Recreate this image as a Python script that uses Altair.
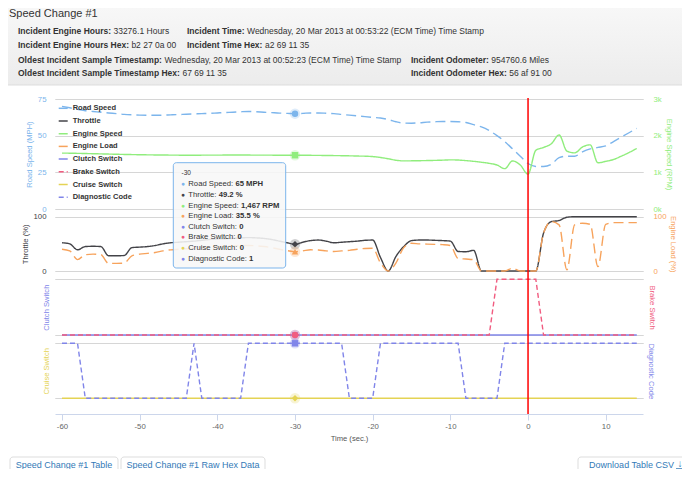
import altair as alt
import pandas as pd

# ---------------- data ----------------
TIME = list(range(-60, 15))

ROAD_SPEED = [
    70, 69, 68, 67, 66.5, 66, 65.5, 65, 64.5, 64.2,
    64, 63.9, 63.9, 64, 64.2, 64.4, 64.6, 64.8, 65, 65.2,
    65.5, 65.8, 66, 66.3, 66.5, 66.3, 66, 65.7, 65.4, 65.2,
    65, 65.2, 65.5, 65.5, 65.3, 65, 64.5, 64, 63.5, 63,
    62.5, 62, 61, 59.5, 58.6, 58.5, 58.8, 59.2, 59.5, 59.7,
    59.7, 59.5, 59, 57.5, 56, 53.5, 50, 46, 41, 36,
    31, 29, 29, 30.5, 35, 36, 36, 39, 41, 42,
    43, 46, 49, 52, 55,
]
THROTTLE = [
    52, 50, 39, 45, 45.5, 45, 28, 28, 28.5, 43,
    44, 45, 47, 50, 52, 53, 54, 55, 56.5, 58,
    59, 59.5, 60, 61, 61.5, 61, 60, 58, 55, 52,
    49.2, 53, 56, 57, 55, 52, 53, 54, 55, 56.5,
    57, 25, 0, 27, 45, 56, 57, 57, 56.5, 56,
    55, 36, 35.5, 38, 0, 0, 0, 0, 0, 0,
    0, 0, 70, 91, 93, 99, 100, 100, 100, 100,
    100, 100, 100, 100, 100,
]
ENGINE_SPEED = [
    1525, 1522, 1518, 1513, 1508, 1503, 1498, 1493, 1488, 1484,
    1480, 1477, 1474, 1472, 1470, 1468, 1467, 1467, 1468, 1469,
    1470, 1471, 1472, 1472, 1471, 1470, 1469, 1468, 1467, 1467,
    1467, 1466, 1464, 1462, 1460, 1457, 1454, 1450, 1445, 1440,
    1430, 1405, 1370, 1330, 1312, 1314, 1317, 1321, 1326, 1332,
    1340, 1335, 1320, 1300, 1275, 1245, 1200, 1100, 1310, 1200,
    950, 1600, 1680, 1780, 2020, 1580, 1530, 1690, 1750, 1260,
    1300, 1350, 1440, 1540, 1650,
]
ENGINE_LOAD = [
    40, 37, 21, 30, 31, 30, 14, 14, 14.5, 28,
    31, 32.5, 34, 37, 39, 40, 41, 42, 43, 44,
    45, 46, 46.5, 47, 47, 46.5, 45, 43, 40, 37.5,
    35.5, 37, 39, 38.7, 37, 36, 37, 38, 40, 41.5,
    42, 15, 0, 15, 43, 51, 50, 49.5, 49, 48.5,
    47, 23, 22, 21, 0, 0, 0, 0, 5, 0,
    0, 0, 70, 91, 85, 2, 85, 88, 86, 8,
    86, 89, 89, 89, 89,
]
CLUTCH_SWITCH = [
    0, 0, 0, 0, 0, 0, 0, 0, 0, 0,
    0, 0, 0, 0, 0, 0, 0, 0, 0, 0,
    0, 0, 0, 0, 0, 0, 0, 0, 0, 0,
    0, 0, 0, 0, 0, 0, 0, 0, 0, 0,
    0, 0, 0, 0, 0, 0, 0, 0, 0, 0,
    0, 0, 0, 0, 0, 0, 0, 0, 0, 0,
    0, 0, 0, 0, 0, 0, 0, 0, 0, 0,
    0, 0, 0, 0, 0,
]
BRAKE_SWITCH = [
    0, 0, 0, 0, 0, 0, 0, 0, 0, 0,
    0, 0, 0, 0, 0, 0, 0, 0, 0, 0,
    0, 0, 0, 0, 0, 0, 0, 0, 0, 0,
    0, 0, 0, 0, 0, 0, 0, 0, 0, 0,
    0, 0, 0, 0, 0, 0, 0, 0, 0, 0,
    0, 0, 0, 0, 0, 0, 1, 1, 1, 1,
    1, 1, 0, 0, 0, 0, 0, 0, 0, 0,
    0, 0, 0, 0, 0,
]
CRUISE_SWITCH = [
    0, 0, 0, 0, 0, 0, 0, 0, 0, 0,
    0, 0, 0, 0, 0, 0, 0, 0, 0, 0,
    0, 0, 0, 0, 0, 0, 0, 0, 0, 0,
    0, 0, 0, 0, 0, 0, 0, 0, 0, 0,
    0, 0, 0, 0, 0, 0, 0, 0, 0, 0,
    0, 0, 0, 0, 0, 0, 0, 0, 0, 0,
    0, 0, 0, 0, 0, 0, 0, 0, 0, 0,
    0, 0, 0, 0, 0,
]
DIAGNOSTIC_CODE = [
    1, 1, 1, 0, 0, 0, 0, 0, 0, 0,
    0, 0, 0, 0, 0, 0, 0, 1, 0, 0,
    0, 0, 0, 0, 1, 1, 1, 1, 1, 1,
    1, 1, 1, 1, 1, 1, 1, 0, 0, 0,
    0, 1, 1, 1, 1, 1, 1, 1, 1, 1,
    1, 1, 0, 0, 0, 0, 0, 1, 1, 1,
    1, 1, 1, 1, 1, 1, 1, 1, 1, 1,
    1, 1, 1, 1, 1,
]

SERIES = ["Road Speed", "Throttle", "Engine Speed", "Engine Load",
          "Clutch Switch", "Brake Switch", "Cruise Switch", "Diagnostic Code"]
VALUES = [ROAD_SPEED, THROTTLE, ENGINE_SPEED, ENGINE_LOAD,
          CLUTCH_SWITCH, BRAKE_SWITCH, CRUISE_SWITCH, DIAGNOSTIC_CODE]
UNITS = [" MPH", " %", " RPM", " %", "", "", "", ""]
DECIMALS = [0, 1, 0, 1, 0, 0, 0, 0]
DOMAINS = [[0, 75], [0, 100], [0, 3000], [0, 100], [0, 1], [0, 1], [0, 1], [0, 1]]
AXIS_TITLES = ["Road Speed (MPH)", "Throttle (%)", "Engine Speed (RPM)", "Engine Load (%)",
               "Clutch Switch", "Brake Switch", "Cruise Switch", "Diagnostic Code"]
AXIS_TICKS = [[0, 25, 50, 75], [0, 100], [0, 1000, 2000, 3000], [0, 100],
              [0, 1], [0, 1], [0, 1], [0, 1]]
X_TICKS = [-60, -50, -40, -30, -20, -10, 0, 10]
HOVER_T = -30
INCIDENT_T = 0

HEADER_TITLE = "Speed Change #1"
INFO_ROWS = [
    [("Incident Engine Hours:", "33276.1 Hours"),
     ("Incident Time:", "Wednesday, 20 Mar 2013 at 00:53:22 (ECM Time) Time Stamp")],
    [("Incident Engine Hours Hex:", "b2 27 0a 00"),
     ("Incident Time Hex:", "a2 69 11 35")],
    [("Oldest Incident Sample Timestamp:", "Wednesday, 20 Mar 2013 at 00:52:23 (ECM Time) Time Stamp"),
     ("Incident Odometer:", "954760.6 Miles")],
    [("Oldest Incident Sample Timestamp Hex:", "67 69 11 35"),
     ("Incident Odometer Hex:", "56 af 91 00")],
]
BUTTONS = ["Speed Change #1 Table", "Speed Change #1 Raw Hex Data", "Download Table CSV"]

# ---------------- styling ----------------
FONT = "Liberation Sans, Arial, Helvetica, sans-serif"
COLORS = ["#7cb5ec", "#434348", "#90ed7d", "#f7a35c", "#8085e9", "#f15c80", "#e4d354", "#8085e9"]
DASHES = [[10, 5], [1, 0], [1, 0], [10, 5], [1, 0], [5, 3], [1, 0], [5, 3]]
INTERP = ["monotone", "monotone", "monotone", "monotone", "linear", "linear", "linear", "linear"]
SHAPES = ["circle", "diamond", "square", "triangle-up", "triangle-down", "circle", "diamond", "square"]
PANEL = [0, 1, 0, 1, 2, 2, 3, 3]
RANGES = [[110, 0], [172, 117.7], [236, 180.3], [299.3, 244.3]]
SIDES = ["left", "left", "right", "right", "left", "right", "left", "right"]
TITLE_X = [-26, -30, 25, 29, -8.5, 8, -8.5, 7]
LABEL_COLORS = ["#7cb5ec", "#434348", "#90ed7d", "#f7a35c", "#8085e9", "#f15c80", "#e4d354", "#8085e9"]
SHOW_LABELS = [True, True, True, True, False, False, False, False]
GRID = "#d6d6d6"
W, H = 588, 315
INFO_SIZE = 8.5

# Arial / Liberation Sans advance widths (1/1000 em) for placing adjoining texts
_LOW = "abcdefghijklmnopqrstuvwxyz"
_UP = "ABCDEFGHIJKLMNOPQRSTUVWXYZ"
REG = dict(zip(_LOW, [556, 556, 500, 556, 556, 278, 556, 556, 222, 222, 500, 222, 833,
                      556, 556, 556, 556, 333, 500, 278, 556, 500, 722, 500, 500, 500]))
REG.update(dict(zip(_UP, [667, 667, 722, 722, 667, 611, 778, 722, 278, 500, 667, 556, 833,
                          722, 778, 667, 778, 722, 667, 611, 722, 667, 944, 667, 667, 611])))
REG.update({" ": 278, ":": 278, ",": 278, ".": 278, "(": 333, ")": 333, "%": 889, "#": 556, "-": 333})
BOLD = dict(zip(_LOW, [556, 611, 556, 611, 556, 333, 611, 611, 278, 278, 556, 278, 889,
                       611, 611, 611, 611, 389, 556, 333, 611, 556, 778, 556, 556, 500]))
BOLD.update(dict(zip(_UP, [722, 722, 722, 722, 667, 611, 778, 722, 278, 556, 722, 611, 833,
                           722, 778, 667, 778, 722, 667, 611, 722, 667, 944, 667, 667, 611])))
BOLD.update({" ": 278, ":": 333, ",": 278, ".": 278, "(": 333, ")": 333, "%": 889, "#": 556, "-": 333})


def tw(s, size, bold=False):
    table = BOLD if bold else REG
    return sum(table.get(c, 556) for c in s) / 1000.0 * size


# ---------------- chart ----------------
rows = []
for name, vals in zip(SERIES, VALUES):
    for t, v in zip(TIME, vals):
        rows.append({"t": t, "series": name, "value": v})
df = pd.DataFrame(rows)
ONE = pd.DataFrame({"k": [0]})

XSCALE = alt.Scale(domain=[-60.9, 14.8], nice=False, zero=False)
XAXIS = alt.Axis(values=X_TICKS, labelExpr="'' + datum.value", title="Time (sec.)",
                 titleFont=FONT, titleFontSize=7.6, titleColor="#555555", titleFontWeight="normal",
                 titleY=24, titleBaseline="middle", labelFont=FONT, labelFontSize=7.8,
                 labelColor="#666666", labelPadding=2, tickSize=6, tickColor="#ccd6eb",
                 domainColor="#ccd6eb", grid=False, labelFlush=False)
X_ENC = alt.X("t:Q", scale=XSCALE, axis=XAXIS)

LEG = alt.Legend(orient="none", legendX=2.7, legendY=3.8, title=None, direction="vertical",
                 symbolType="stroke", symbolSize=81, symbolStrokeWidth=1.5,
                 labelFont=FONT, labelFontSize=7.5, labelFontWeight="bold", labelColor="#333333",
                 rowPadding=3.7, padding=0, labelOffset=4)
COLOR_ENC = alt.Color("series:N", scale=alt.Scale(domain=SERIES, range=COLORS), legend=LEG)
DASH_ENC = alt.StrokeDash("series:N", scale=alt.Scale(domain=SERIES, range=DASHES), legend=LEG)


def yscale(i):
    return alt.Scale(domain=DOMAINS[i], range=RANGES[PANEL[i]], nice=False, zero=False)


def yaxis(i):
    rng = RANGES[PANEL[i]]
    left = SIDES[i] == "left"
    kw = dict(orient=SIDES[i], values=AXIS_TICKS[i], title=AXIS_TITLES[i],
              titleColor=COLORS[i], titleFont=FONT, titleFontSize=7.6, titleFontWeight="normal",
              titleAngle=270 if left else 90, titleX=TITLE_X[i], titleY=(rng[0] + rng[1]) / 2,
              titleAlign="center", titleBaseline="middle",
              grid=True, gridColor=GRID, gridWidth=1, ticks=False, tickSize=0, domain=False,
              labels=SHOW_LABELS[i], labelColor=LABEL_COLORS[i], labelFont=FONT,
              labelFontSize=7.8, labelPadding=9 if left else 10)
    if i == 2:
        kw["labelExpr"] = "datum.value / 1000 + 'k'"
    return alt.Axis(**kw)


def txt(x, y, s, size, color="#333333", weight="normal", align="left"):
    return alt.Chart(ONE).mark_text(text=s, fontSize=size, color=color, fontWeight=weight,
                                    align=align, baseline="middle", font=FONT).encode(
        x=alt.value(x), y=alt.value(y))


def box(x, x2, y, y2, fill, radius=0, **kw):
    return alt.Chart(ONE).mark_rect(fill=fill, cornerRadius=radius, **kw).encode(
        x=alt.value(x), x2=alt.value(x2), y=alt.value(y), y2=alt.value(y2))


layers = []

# header panel
grad = alt.LinearGradient(gradient="linear", x1=0, x2=0, y1=0, y2=1,
                          stops=[alt.GradientStop(color="#f7f7f7", offset=0),
                                 alt.GradientStop(color="#ececec", offset=1)])
layers.append(box(-47, 627, -91, -14, grad))
layers.append(alt.Chart(ONE).mark_rule(color="#dddddd").encode(
    x=alt.value(-47), x2=alt.value(627), y=alt.value(-14)))
layers.append(txt(-46, -85, HEADER_TITLE, 11))
ROW_Y = [-68, -54, -39.5, -26]
COL_X = [[-37, 132], [-37, 132], [-37, 356], [-37, 356]]
for r, row in enumerate(INFO_ROWS):
    for c, (lab, val) in enumerate(row):
        x0 = COL_X[r][c]
        layers.append(txt(x0, ROW_Y[r], lab, INFO_SIZE, weight="bold"))
        layers.append(txt(x0 + tw(lab, INFO_SIZE, True) + 2.4, ROW_Y[r], val, INFO_SIZE))

# series lines
for i, name in enumerate(SERIES):
    layers.append(
        alt.Chart(df).transform_filter(alt.datum.series == name)
        .mark_line(strokeWidth=1.4, interpolate=INTERP[i])
        .encode(x=X_ENC, y=alt.Y("value:Q", scale=yscale(i), axis=yaxis(i)),
                color=COLOR_ENC, strokeDash=DASH_ENC)
    )

# incident time marker
layers.append(alt.Chart(pd.DataFrame({"t": [INCIDENT_T]})).mark_rule(color="#ff0000", strokeWidth=1.5)
              .encode(x=X_ENC, y=alt.value(-1), y2=alt.value(H)))

# hover markers at HOVER_T
hi = TIME.index(HOVER_T)
for i, name in enumerate(SERIES):
    mk = pd.DataFrame({"t": [HOVER_T], "value": [VALUES[i][hi]]})
    layers.append(alt.Chart(mk).mark_point(filled=True, shape="circle", size=110, opacity=0.25,
                                           color=COLORS[i])
                  .encode(x=X_ENC, y=alt.Y("value:Q", scale=yscale(i), axis=None)))
    layers.append(alt.Chart(mk).mark_point(filled=True, shape=SHAPES[i], size=42, opacity=1,
                                           color=COLORS[i])
                  .encode(x=X_ENC, y=alt.Y("value:Q", scale=yscale(i), axis=None)))

# tooltip
layers.append(box(118.3, 230.7, 63.7, 169, "rgba(247,247,247,0.88)", radius=3,
                  stroke="#7cb5ec", strokeWidth=1))
layers.append(txt(126.5, 74.3, str(HOVER_T), 6.5))
for i, name in enumerate(SERIES):
    y = 85.3 + i * 10.6
    v = VALUES[i][hi]
    if i == 2:
        vs = f"{v:,.0f}"
    else:
        vs = f"{v:.{DECIMALS[i]}f}"
    lab = name + ": "
    layers.append(txt(128.3, y, "\u25CF", 6.5, color=COLORS[i], align="center"))
    layers.append(txt(133.3, y, lab, 7.7))
    layers.append(txt(133.3 + tw(lab, 7.7), y, vs + UNITS[i], 7.7, weight="bold"))

# bottom buttons
BTN_X = [(-45, 63), (66, 210), (523, 633)]
for (bx0, bx1), label in zip(BTN_X, BUTTONS):
    layers.append(box(bx0, bx1, 358, 380, "#ffffff", radius=3, stroke="#dddddd", strokeWidth=1))
layers.append(txt(9, 366, BUTTONS[0], 9, color="#337ab7", align="center"))
layers.append(txt(138, 366, BUTTONS[1], 9, color="#337ab7", align="center"))
layers.append(txt(619, 366, BUTTONS[2], 9, color="#337ab7", align="right"))
layers.append(txt(625, 365, "\u2193", 10, color="#337ab7", weight="bold", align="center"))
layers.append(alt.Chart(ONE).mark_rule(color="#337ab7", strokeWidth=1.5).encode(
    x=alt.value(621), x2=alt.value(629), y=alt.value(370)))

chart = (
    alt.layer(*layers)
    .resolve_scale(y="independent")
    .properties(width=W, height=H, autosize=alt.AutoSizeParams(type="none"),
                padding={"left": 47, "top": 91, "right": 39, "bottom": 55},
                background="#ffffff")
    .configure_view(strokeWidth=0)
)

chart.save("out.html", embed_options={"renderer": "svg", "actions": False})
